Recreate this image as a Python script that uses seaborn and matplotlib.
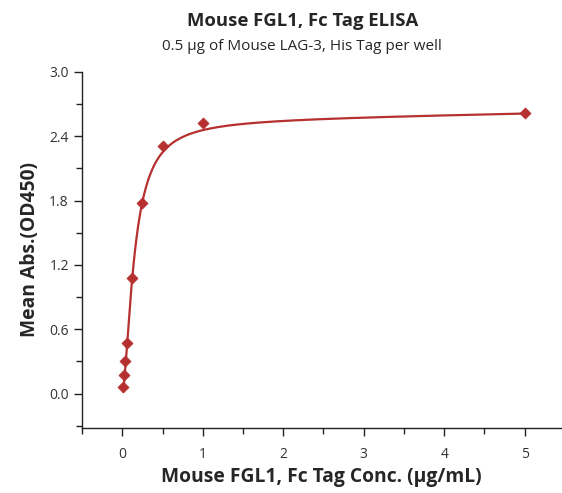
import numpy as np
import pandas as pd
import matplotlib
matplotlib.use("Agg")
import matplotlib.pyplot as plt
from matplotlib.ticker import MultipleLocator, FormatStrFormatter
import seaborn as sns

# measured ELISA points (ug/mL vs OD450)
conc = [5, 1, 0.5, 0.25, 0.125, 0.0625, 0.03125, 0.0156, 0.0078]
od450 = [2.62, 2.52, 2.31, 1.78, 1.08, 0.47, 0.30, 0.17, 0.06]

# fitted curve: specific binding (Hill) + small linear non-specific term,
# parameters
fit_bmax = 2.55
fit_kd = 0.1496
fit_hill = 1.65
fit_ns = 0.014

RED = "#b5302e"

sns.set_theme(style="ticks")
plt.rcParams["font.family"] = ["Open Sans", "DejaVu Sans"]

df = pd.DataFrame({"conc": conc, "od": od450})
xs = np.linspace(min(conc), max(conc), 800)
fit_df = pd.DataFrame({
    "conc": xs,
    "od": fit_bmax * xs ** fit_hill / (fit_kd ** fit_hill + xs ** fit_hill) + fit_ns * xs,
})

fig = plt.figure(figsize=(5.62, 4.93), dpi=100)
ax = fig.add_axes([0.146, 0.132, 0.852, 0.722])

sns.lineplot(data=fit_df, x="conc", y="od", ax=ax, color=RED, linewidth=1.6)
sns.scatterplot(data=df, x="conc", y="od", ax=ax, color=RED, marker="D",
                s=32, edgecolor=RED, linewidth=0.5, zorder=3)

ax.set_xlim(-0.5, 5.45)
ax.set_ylim(-0.32, 3.0)
ax.xaxis.set_major_locator(MultipleLocator(1))
ax.xaxis.set_minor_locator(MultipleLocator(0.5))
ax.yaxis.set_major_locator(MultipleLocator(0.6))
ax.yaxis.set_minor_locator(MultipleLocator(0.3))
ax.yaxis.set_major_formatter(FormatStrFormatter("%.1f"))

for s in ["top", "right"]:
    ax.spines[s].set_visible(False)
for s in ["left", "bottom"]:
    ax.spines[s].set_color("#222222")
    ax.spines[s].set_linewidth(1.0)

ax.tick_params(axis="both", which="major", direction="out", length=6, width=1,
               colors="#222222", labelsize=10, labelcolor="#333333")
ax.tick_params(axis="both", which="minor", direction="out", length=4, width=1,
               colors="#222222")
ax.tick_params(axis="x", pad=8)

ax.set_xlabel("Mouse FGL1, Fc Tag Conc. (µg/mL)", fontsize=13.9, fontweight="bold",
              labelpad=3)
ax.set_ylabel("Mean Abs.(OD450)", fontsize=13.9, fontweight="bold", labelpad=7)

fig.text(0.538, 0.957, "Mouse FGL1, Fc Tag ELISA", ha="center", va="center",
         fontsize=13.3, fontweight="bold")
fig.text(0.538, 0.906, "0.5 µg of Mouse LAG-3, His Tag per well", ha="center",
         va="center", fontsize=11)

fig.savefig("out.png", dpi=100)
